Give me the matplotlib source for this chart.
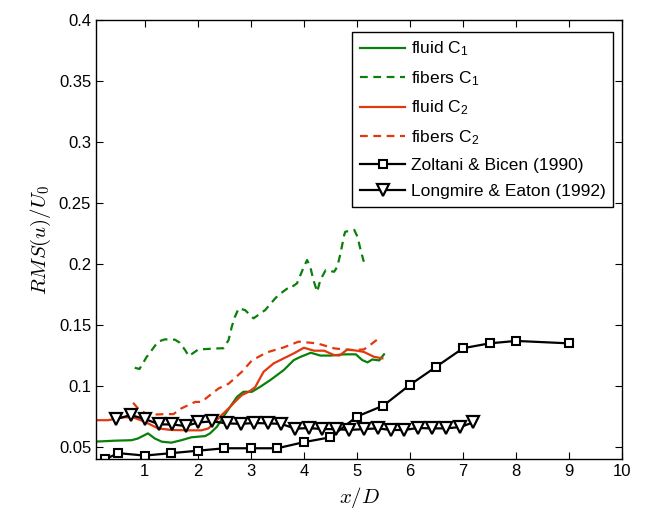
import matplotlib
matplotlib.use('Agg')
import matplotlib.pyplot as plt

plt.rcParams['font.family'] = ['Liberation Sans', 'DejaVu Sans']
plt.rcParams['mathtext.fontset'] = 'cm'

green = '#0a800a'
red = '#e2380f'

# fluid C1 (green solid)
fluid_c1_x = [0.05, 0.43, 0.75, 0.87, 1.06, 1.19, 1.32, 1.5, 1.69, 1.88, 2.14, 2.23, 2.36, 2.48,
              2.61, 2.74, 2.86, 3.02, 3.18, 3.37, 3.62, 3.81, 3.94, 4.13, 4.31, 4.5, 4.76, 4.98,
              5.1, 5.2, 5.29, 5.42, 5.51]
fluid_c1_y = [0.0544, 0.0552, 0.0556, 0.057, 0.0612, 0.057, 0.0544, 0.0536, 0.0556, 0.058, 0.059,
              0.0612, 0.0666, 0.0748, 0.083, 0.0912, 0.0953, 0.0953, 0.0995, 0.105, 0.1131, 0.1213,
              0.124, 0.1273, 0.125, 0.125, 0.126, 0.126, 0.1213, 0.1194, 0.1218, 0.121, 0.126]

# fibers C1 (green dashed)
fibers_c1_x = [0.81, 0.9, 1.03, 1.25, 1.38, 1.57, 1.66, 1.76, 1.83, 2.01, 2.39, 2.48, 2.58, 2.64,
               2.70, 2.77, 2.89, 3.05, 3.27, 3.46, 3.52, 3.75, 3.78, 3.87, 4.0, 4.06, 4.12, 4.18,
               4.25, 4.31, 4.41, 4.57, 4.63, 4.69, 4.76, 4.78, 4.95, 5.01, 5.07, 5.13]
fibers_c1_y = [0.115, 0.114, 0.1235, 0.1364, 0.1383, 0.138, 0.1355, 0.1295, 0.1246, 0.130, 0.1309,
               0.131, 0.1377, 0.1486, 0.1568, 0.1637, 0.1623, 0.1555, 0.1623, 0.1719, 0.1746,
               0.182, 0.1815, 0.1842, 0.1978, 0.2033, 0.1978, 0.1869, 0.1773, 0.1869, 0.195,
               0.1937, 0.1978, 0.2087, 0.2238, 0.2265, 0.228, 0.2224, 0.2115, 0.2019]

# fluid C2 (red solid)
fluid_c2_x = [0.05, 0.3, 0.62, 0.8, 1.0, 1.25, 1.5, 1.82, 2.07, 2.2, 2.33, 2.45, 2.58, 2.70, 2.83,
              2.96, 3.08, 3.24, 3.43, 3.62, 3.81, 4.0, 4.19, 4.38, 4.57, 4.67, 4.82, 5.0, 5.13,
              5.32, 5.48]
fluid_c2_y = [0.072, 0.072, 0.0745, 0.074, 0.0707, 0.0653, 0.064, 0.0637, 0.0637, 0.0653, 0.0707,
              0.0762, 0.0817, 0.0871, 0.0926, 0.0953, 0.099, 0.1117, 0.1186, 0.1227, 0.1268,
              0.1314, 0.129, 0.129, 0.1254, 0.125, 0.130, 0.129, 0.128, 0.124, 0.1227]

# fibers C2 (red dashed)
fibers_c2_x = [0.78, 0.87, 1.0, 1.13, 1.38, 1.54, 1.69, 1.95, 2.07, 2.23, 2.39, 2.58, 2.83, 3.02,
               3.30, 3.62, 3.90, 4.25, 4.57, 4.88, 5.13, 5.29, 5.45]
fibers_c2_y = [0.0863, 0.0817, 0.078, 0.0765, 0.077, 0.077, 0.0817, 0.087, 0.087, 0.0926, 0.098,
               0.1019, 0.1117, 0.121, 0.1276, 0.1317, 0.1364, 0.135, 0.1309, 0.1295, 0.130,
               0.135, 0.1404]

# Zoltani & Bicen (1990)
zb_x = [0.25, 0.5, 1, 1.5, 2, 2.5, 3, 3.5, 4, 4.5, 5, 5.5, 6, 6.5, 7, 7.5, 8, 9]
zb_y = [0.040, 0.045, 0.043, 0.045, 0.047, 0.049, 0.049, 0.049, 0.054, 0.058, 0.075, 0.084,
        0.101, 0.116, 0.131, 0.135, 0.137, 0.135]

# Longmire & Eaton (1992)
le_x = [0.46, 0.735, 1.0, 1.27, 1.52, 1.77, 2.01, 2.27, 2.55, 2.81, 3.06, 3.32, 3.57, 3.84, 4.09,
        4.35, 4.60, 4.85, 5.13, 5.39, 5.64, 5.89, 6.15, 6.41, 6.68, 6.95, 7.19]
le_y = [0.073, 0.0762, 0.073, 0.0686, 0.0685, 0.0672, 0.0702, 0.071, 0.0694, 0.069, 0.0697,
        0.0694, 0.069, 0.065, 0.0656, 0.0647, 0.0647, 0.064, 0.0647, 0.0653, 0.064, 0.064,
        0.0656, 0.0653, 0.0653, 0.0664, 0.0702]

fig = plt.figure(figsize=(6.46, 5.16), dpi=100)
ax = fig.add_axes([0.1486, 0.110, 0.8144, 0.851])

ax.plot(fluid_c1_x, fluid_c1_y, color=green, lw=1.6, label='fluid C$\\mathregular{_1}$')
ax.plot(fibers_c1_x, fibers_c1_y, color=green, lw=1.6, dashes=(3.5, 2.5), label='fibers C$\\mathregular{_1}$')
ax.plot(fluid_c2_x, fluid_c2_y, color=red, lw=1.6, label='fluid C$\\mathregular{_2}$')
ax.plot(fibers_c2_x, fibers_c2_y, color=red, lw=1.6, dashes=(3.5, 2.5), label='fibers C$\\mathregular{_2}$')
ax.plot(zb_x, zb_y, color='black', lw=1.6, marker='s', ms=5.5, mfc='white', mec='black', mew=1.5,
        label='Zoltani & Bicen (1990)')
ax.plot(le_x, le_y, color='black', lw=1.6, marker='v', ms=8, mfc='white', mec='black', mew=1.6,
        label='Longmire & Eaton (1992)')

ax.set_xlim(0.08, 10)
ax.set_ylim(0.04, 0.4)
ax.set_xticks(range(1, 11))
ax.set_yticks([0.05, 0.1, 0.15, 0.2, 0.25, 0.3, 0.35, 0.4])
ax.set_yticklabels(['0.05', '0.1', '0.15', '0.2', '0.25', '0.3', '0.35', '0.4'])
ax.tick_params(direction='in', top=True, right=True, length=5, width=0.8, labelsize=12)
for s in ax.spines.values():
    s.set_linewidth(1.0)

ax.set_xlabel('$x/D$', fontsize=15, labelpad=4)
ax.set_ylabel('$RMS(u)/U_0$', fontsize=15, labelpad=4)

leg = ax.legend(loc='upper right', bbox_to_anchor=(0.983, 0.973), borderaxespad=0,
                fontsize=12.5, handlelength=2.6, labelspacing=0.62, fancybox=False,
                edgecolor='black', framealpha=1, handletextpad=0.3, borderpad=0.45)
leg.get_frame().set_linewidth(1.0)

fig.savefig('out.png', dpi=100)
